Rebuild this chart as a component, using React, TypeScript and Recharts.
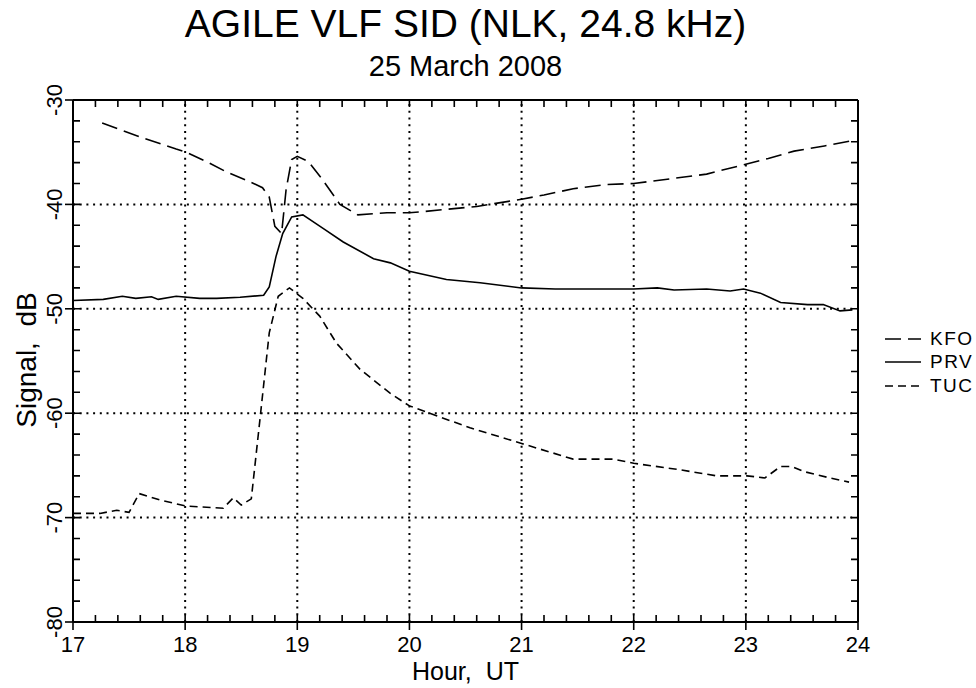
import { LineChart, Line, XAxis, YAxis, ReferenceLine, ReferenceArea, Legend } from "recharts"

// values (hour UT, signal dB)
const KFO_HOUR = [17.26, 17.59, 17.92, 18.01, 18.19, 18.37, 18.55, 18.69, 18.75, 18.8, 18.86, 18.9, 18.95, 19.0, 19.1, 19.23, 19.38, 19.54, 19.8, 20.0, 20.12, 20.3, 20.6, 21.0, 21.2, 21.46, 21.76, 22.0, 22.36, 22.65, 22.98, 23.2, 23.43, 23.7, 23.95]
const KFO_DB = [-32.2, -33.5, -34.7, -35.0, -35.9, -36.9, -37.7, -38.4, -39.3, -42.1, -42.8, -38.6, -35.7, -35.4, -35.9, -37.7, -40.0, -41.0, -40.8, -40.8, -40.7, -40.5, -40.2, -39.5, -39.1, -38.5, -38.1, -38.0, -37.5, -37.1, -36.2, -35.6, -34.9, -34.4, -33.9]

const PRV_HOUR = [17.0, 17.27, 17.44, 17.56, 17.7, 17.76, 17.92, 18.13, 18.28, 18.49, 18.7, 18.75, 18.81, 18.87, 18.95, 19.05, 19.23, 19.41, 19.68, 19.83, 20.0, 20.33, 20.63, 21.0, 21.3, 21.58, 22.0, 22.21, 22.36, 22.65, 22.86, 22.98, 23.13, 23.31, 23.55, 23.69, 23.84, 23.95]
const PRV_DB = [-49.2, -49.1, -48.8, -49.0, -48.85, -49.1, -48.8, -49.0, -49.0, -48.9, -48.7, -47.9, -45.0, -42.8, -41.2, -41.0, -42.3, -43.6, -45.2, -45.6, -46.4, -47.2, -47.5, -48.0, -48.1, -48.1, -48.1, -48.0, -48.2, -48.1, -48.3, -48.1, -48.5, -49.4, -49.6, -49.6, -50.2, -50.1]

const TUC_HOUR = [17.0, 17.24, 17.39, 17.5, 17.59, 17.77, 18.01, 18.34, 18.43, 18.5, 18.59, 18.67, 18.75, 18.83, 18.93, 19.05, 19.2, 19.35, 19.56, 19.83, 20.0, 20.54, 21.0, 21.46, 21.82, 22.0, 22.4, 22.74, 23.01, 23.17, 23.31, 23.41, 23.52, 23.75, 23.92]
const TUC_DB = [-69.6, -69.6, -69.3, -69.5, -67.7, -68.3, -68.9, -69.1, -68.1, -68.8, -68.2, -60.3, -52.3, -48.8, -48.0, -49.0, -50.7, -53.3, -55.8, -58.1, -59.3, -61.4, -62.9, -64.4, -64.4, -64.8, -65.4, -66.0, -66.0, -66.2, -65.1, -65.1, -65.6, -66.2, -66.6]

const HOUR_TICKS = [17, 18, 19, 20, 21, 22, 23, 24]
const DB_TICKS = [-30, -40, -50, -60, -70, -80]

const FONT = '"Liberation Sans", Arial, Helvetica, sans-serif'

const toRows = (hours: number[], dbs: number[]) => hours.map((h, i) => ({ hour: h, db: dbs[i] }))

const SERIES = [
  { name: "KFO", data: toRows(KFO_HOUR, KFO_DB), dash: "16 7" },
  { name: "PRV", data: toRows(PRV_HOUR, PRV_DB), dash: undefined },
  { name: "TUC", data: toRows(TUC_HOUR, TUC_DB), dash: "8 5" },
]

const X_MIN = HOUR_TICKS[0]
const X_MAX = HOUR_TICKS[HOUR_TICKS.length - 1]
const Y_MIN = DB_TICKS[DB_TICKS.length - 1]
const Y_MAX = DB_TICKS[0]

// 5 minor steps per hour, 5 per 10 dB
const minorX: number[] = []
HOUR_TICKS.slice(0, -1).forEach((h) => {
  for (let k = 1; k < 5; k++) minorX.push(Math.round((h + k * 0.2) * 10) / 10)
})
const minorY: number[] = []
DB_TICKS.slice(0, -1).forEach((d) => {
  for (let k = 1; k < 5; k++) minorY.push(d - 2 * k)
})

const INNER_GRID_X = HOUR_TICKS.slice(1, -1)
const INNER_GRID_Y = DB_TICKS.slice(1, -1)

// tick lengths in data units: plot is ~785 px wide for 7 h, ~523 px tall for 50 dB
const HX = 7 / 785
const DY = 50 / 523
const TICK_LEN = 7
const OUT_LEN = 8
const TICK_W = 1.6

// inward minor ticks on all four sides, as one broken line (nulls split segments)
type Pt = { hour: number; db: number | null }
const tickPath: Pt[] = []
const seg = (h1: number, d1: number, h2: number, d2: number) => {
  tickPath.push({ hour: h1, db: d1 }, { hour: h2, db: d2 }, { hour: h2, db: null })
}
minorX.forEach((h) => {
  seg(h, Y_MIN, h, Y_MIN + TICK_LEN * DY)
  seg(h, Y_MAX, h, Y_MAX - TICK_LEN * DY)
})
minorY.forEach((d) => {
  seg(X_MIN, d, X_MIN + TICK_LEN * HX, d)
  seg(X_MAX, d, X_MAX - TICK_LEN * HX, d)
})
HOUR_TICKS.forEach((h) => {
  seg(h, Y_MIN, h, Y_MIN + TICK_LEN * DY)
  seg(h, Y_MAX, h, Y_MAX - TICK_LEN * DY)
})
DB_TICKS.forEach((d) => {
  seg(X_MIN, d, X_MIN + TICK_LEN * HX, d)
  seg(X_MAX, d, X_MAX - TICK_LEN * HX, d)
})

// outward stubs at the major ticks (bottom and left, where the labels are)
type Box = { x1: number; x2: number; y1: number; y2: number }
const outTicks: Box[] = [
  ...HOUR_TICKS.map((h) => ({ x1: h - (TICK_W / 2) * HX, x2: h + (TICK_W / 2) * HX, y1: Y_MIN - OUT_LEN * DY, y2: Y_MIN })),
  ...DB_TICKS.map((d) => ({ x1: X_MIN - OUT_LEN * HX, x2: X_MIN, y1: d - (TICK_W / 2) * DY, y2: d + (TICK_W / 2) * DY })),
]

const BottomTick = ({ x, y, payload }: any) => (
  <text x={x} y={y + 30} textAnchor="middle" fontSize={22} fontFamily={FONT} fill="#000">
    {payload.value}
  </text>
)

const LeftTick = ({ x, y, payload }: any) => {
  const tx = x - 11
  return (
    <text x={tx} y={y} transform={`rotate(-90, ${tx}, ${y})`} textAnchor="middle" fontSize={22} fontFamily={FONT} fill="#000">
      {payload.value}
    </text>
  )
}

const LegendBox = () => (
  <div style={{ fontFamily: FONT, fontSize: 19, letterSpacing: 1.5, color: "#000" }}>
    {SERIES.map((s) => (
      <div key={s.name} style={{ display: "flex", alignItems: "center", height: 23.5 }}>
        <svg width={44} height={10} style={{ display: "block" }}>
          <line x1={5} x2={41} y1={5} y2={5} stroke="#000" strokeWidth={1.6} strokeDasharray={s.dash} />
        </svg>
        <span style={{ marginLeft: 6 }}>{s.name}</span>
      </div>
    ))}
  </div>
)

const axisLineStyle = { stroke: "#000", strokeWidth: 2 }

export default function App() {
  return (
    <div style={{ position: "absolute", left: 0, top: 0, width: 976, height: 688, background: "#fff", fontFamily: FONT }}>
      <div style={{ position: "absolute", left: 73, width: 785, top: 4, fontSize: 39, lineHeight: "39px", textAlign: "center", color: "#000" }}>
        AGILE VLF SID (NLK, 24.8 kHz)
      </div>
      <div style={{ position: "absolute", left: 73, width: 785, top: 52, fontSize: 29, lineHeight: "29px", textAlign: "center", color: "#000" }}>
        25 March 2008
      </div>
      <div
        style={{
          position: "absolute",
          left: 30 - 300,
          top: 360 - 17,
          width: 600,
          fontSize: 28,
          lineHeight: "28px",
          textAlign: "center",
          whiteSpace: "pre",
          transform: "rotate(-90deg)",
          transformOrigin: "300px 17px",
        }}
      >
        {"Signal,  dB"}
      </div>
      <div style={{ position: "absolute", left: 73, width: 785, top: 659, fontSize: 25, lineHeight: "25px", textAlign: "center", whiteSpace: "pre" }}>
        {"Hour,  UT"}
      </div>
      <LineChart width={976} height={688} margin={{ top: 99, left: 72, right: 117, bottom: 65 }} style={{ position: "absolute", left: 0, top: 0 }}>
        <XAxis
          xAxisId={0}
          dataKey="hour"
          type="number"
          domain={[X_MIN, X_MAX]}
          allowDataOverflow
          ticks={HOUR_TICKS}
          interval={0}
          height={1}
          tickSize={0}
          tickMargin={0}
          tickLine={false}
          axisLine={axisLineStyle}
          tick={BottomTick}
        />
        <XAxis
          xAxisId="top"
          orientation="top"
          dataKey="hour"
          type="number"
          domain={[X_MIN, X_MAX]}
          allowDataOverflow
          ticks={HOUR_TICKS}
          height={1}
          tickLine={false}
          axisLine={axisLineStyle}
          tick={false}
        />
        <YAxis
          yAxisId={0}
          type="number"
          domain={[Y_MIN, Y_MAX]}
          allowDataOverflow
          ticks={DB_TICKS}
          interval={0}
          width={1}
          tickSize={0}
          tickMargin={0}
          tickLine={false}
          axisLine={axisLineStyle}
          tick={LeftTick}
        />
        <YAxis
          yAxisId="right"
          orientation="right"
          type="number"
          domain={[Y_MIN, Y_MAX]}
          allowDataOverflow
          ticks={DB_TICKS}
          width={1}
          tickLine={false}
          axisLine={axisLineStyle}
          tick={false}
        />
        {INNER_GRID_X.map((h) => (
          <ReferenceLine key={`gx${h}`} x={h} stroke="#000" strokeWidth={2} strokeDasharray="2 4.7" />
        ))}
        {INNER_GRID_Y.map((d) => (
          <ReferenceLine key={`gy${d}`} y={d} stroke="#000" strokeWidth={2} strokeDasharray="2 4.7" />
        ))}
        {outTicks.map((b, i) => (
          <ReferenceArea key={`o${i}`} {...b} fill="#000" fillOpacity={1} stroke="none" ifOverflow="visible" />
        ))}
        <Line
          data={tickPath}
          dataKey="db"
          type="linear"
          stroke="#000"
          strokeWidth={TICK_W}
          connectNulls={false}
          dot={false}
          activeDot={false}
          legendType="none"
          isAnimationActive={false}
        />
        {SERIES.map((s) => (
          <Line
            key={s.name}
            name={s.name}
            data={s.data}
            dataKey="db"
            type="linear"
            stroke="#000"
            strokeWidth={1.6}
            strokeDasharray={s.dash}
            dot={false}
            activeDot={false}
            isAnimationActive={false}
          />
        ))}
        <Legend
          layout="vertical"
          align="center"
          verticalAlign="middle"
          wrapperStyle={{ left: 880, top: 327, width: 96 }}
          content={() => <LegendBox />}
        />
      </LineChart>
    </div>
  )
}
